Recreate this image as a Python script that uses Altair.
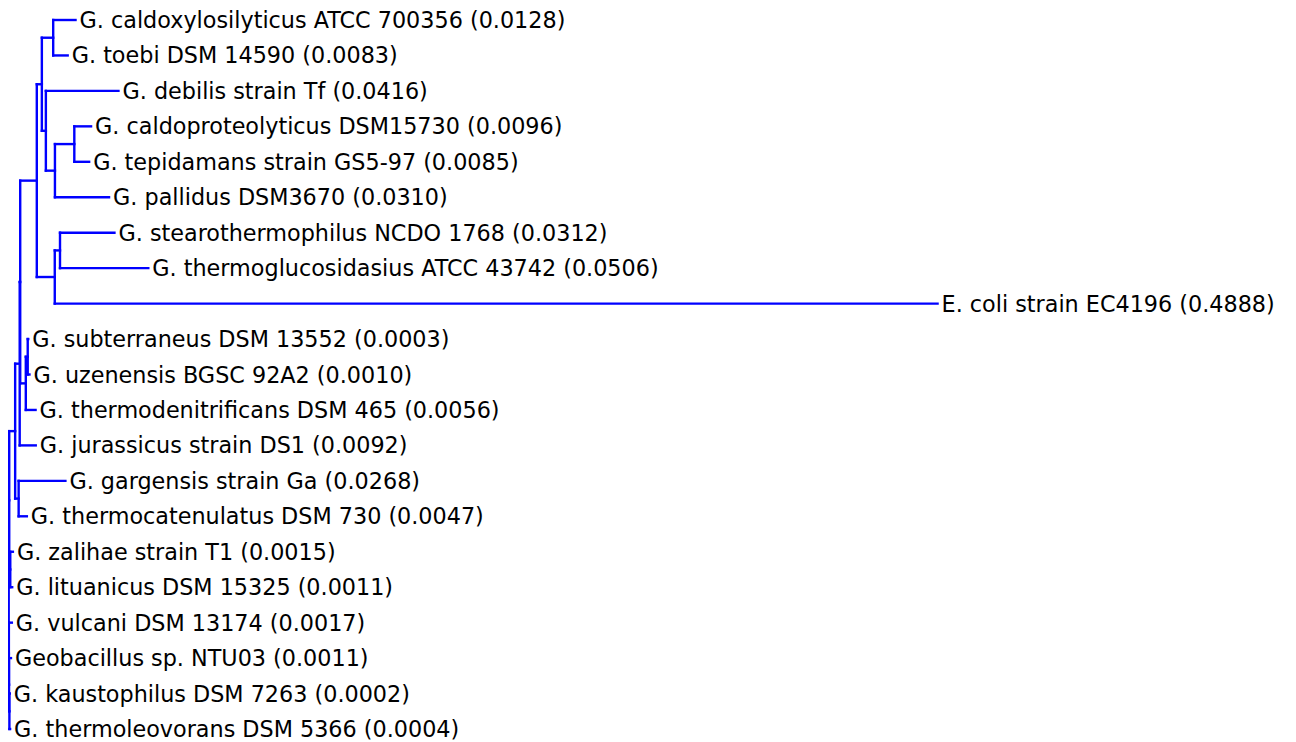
import altair as alt
import pandas as pd

# ---- leaves (top to bottom) ----
leaf_names = [
    "G. caldoxylosilyticus ATCC 700356",
    "G. toebi DSM 14590",
    "G. debilis strain Tf",
    "G. caldoproteolyticus DSM15730",
    "G. tepidamans strain GS5-97",
    "G. pallidus DSM3670",
    "G. stearothermophilus NCDO 1768",
    "G. thermoglucosidasius ATCC 43742",
    "E. coli strain EC4196",
    "G. subterraneus DSM 13552",
    "G. uzenensis BGSC 92A2",
    "G. thermodenitrificans DSM 465",
    "G. jurassicus strain DS1",
    "G. gargensis strain Ga",
    "G. thermocatenulatus DSM 730",
    "G. zalihae strain T1",
    "G. lituanicus DSM 15325",
    "G. vulcani DSM 13174",
    "Geobacillus sp. NTU03",
    "G. kaustophilus DSM 7263",
    "G. thermoleovorans DSM 5366",
]
leaf_values = [0.0128, 0.0083, 0.0416, 0.0096, 0.0085, 0.0310, 0.0312, 0.0506,
               0.4888, 0.0003, 0.0010, 0.0056, 0.0092, 0.0268, 0.0047, 0.0015,
               0.0011, 0.0017, 0.0011, 0.0002, 0.0004]
# drawn branch lengths
leaf_branch = [0.0128, 0.0083, 0.0416, 0.0096, 0.0085, 0.0310, 0.0312, 0.0506,
               0.5059, 0.0003, 0.0010, 0.0056, 0.0092, 0.0268, 0.0047, 0.0015,
               0.0011, 0.0017, 0.0011, 0.0002, 0.0004]
leaf_parent = ["A", "A", "B", "D", "D", "C", "E", "E", "F", "H", "H", "I", "M",
               "K", "K", "Z", "Z", "V", "W", "P", "P"]

# ---- internal nodes ----
node_names = ["R", "U", "L", "M", "N", "G", "AB", "A", "B", "C", "D", "F", "E",
              "I", "H", "K", "Z", "V", "W", "P"]
node_parent = ["", "R", "U", "L", "M", "N", "G", "AB", "AB", "B", "C", "G", "F",
               "N", "I", "L", "U", "R", "V", "W"]
node_branch = [0.0, 0.0003, 0.0034, 0.0026, 0.0003, 0.0095, 0.0029, 0.0065,
               0.0023, 0.0052, 0.0111, 0.0103, 0.0030, 0.0032, 0.0011, 0.0020,
               0.0006, 0.0001, 0.0001, 0.0002]

# ---- layout from the tree ----
parent = {}
branch = {}
for n, p, b in zip(node_names, node_parent, node_branch):
    parent[n] = p
    branch[n] = b
leaf_ids = [f"leaf{i}" for i in range(len(leaf_names))]
for lid, p, b in zip(leaf_ids, leaf_parent, leaf_branch):
    parent[lid] = p
    branch[lid] = b

children = {n: [] for n in node_names}
for n in node_names + leaf_ids:
    if parent[n]:
        children[parent[n]].append(n)

xpos = {}
def get_x(n):
    if n not in xpos:
        xpos[n] = branch[n] + (get_x(parent[n]) if parent[n] else 0.0)
    return xpos[n]

ypos = {lid: float(i) for i, lid in enumerate(leaf_ids)}
def get_y(n):
    if n not in ypos:
        ys = [get_y(c) for c in children[n]]
        ypos[n] = (min(ys) + max(ys)) / 2
    return ypos[n]

segs = []
for n in node_names + leaf_ids:
    if parent[n]:
        segs.append({"x": get_x(parent[n]), "x2": get_x(n), "y": get_y(n), "y2": get_y(n)})
for n in node_names:
    ys = [get_y(c) for c in children[n]]
    segs.append({"x": get_x(n), "x2": get_x(n), "y": min(ys), "y2": max(ys)})
seg_df = pd.DataFrame(segs)

lab_df = pd.DataFrame({
    "x": [get_x(l) for l in leaf_ids],
    "y": [get_y(l) for l in leaf_ids],
    "label": [f"{n} ({v:.4f})" for n, v in zip(leaf_names, leaf_values)],
})

W, H = 1280, 734
px_per_unit = 1745.0
row_px = 35.45
x0 = -0.0004
xs = alt.Scale(domain=[x0, x0 + W / px_per_unit], nice=False, zero=False)
ys = alt.Scale(domain=[-12 / row_px, (H - 12) / row_px], reverse=True, nice=False, zero=False)

lines = alt.Chart(seg_df).mark_rule(color="#0000FF", strokeWidth=2.4, strokeCap="square").encode(
    x=alt.X("x:Q", scale=xs, axis=None),
    x2="x2:Q",
    y=alt.Y("y:Q", scale=ys, axis=None),
    y2="y2:Q",
)

labels = alt.Chart(lab_df).mark_text(
    align="left", baseline="middle", dx=4, dy=1, font="DejaVu Sans", fontSize=22.3, color="black"
).encode(
    x=alt.X("x:Q", scale=xs, axis=None),
    y=alt.Y("y:Q", scale=ys, axis=None),
    text="label:N",
)

chart = alt.layer(lines, labels).properties(
    width=W, height=H, padding=0, autosize=alt.AutoSizeParams(type="none")
).configure_view(stroke=None)

chart.save("out.html", embed_options={"renderer": "svg", "actions": False})
